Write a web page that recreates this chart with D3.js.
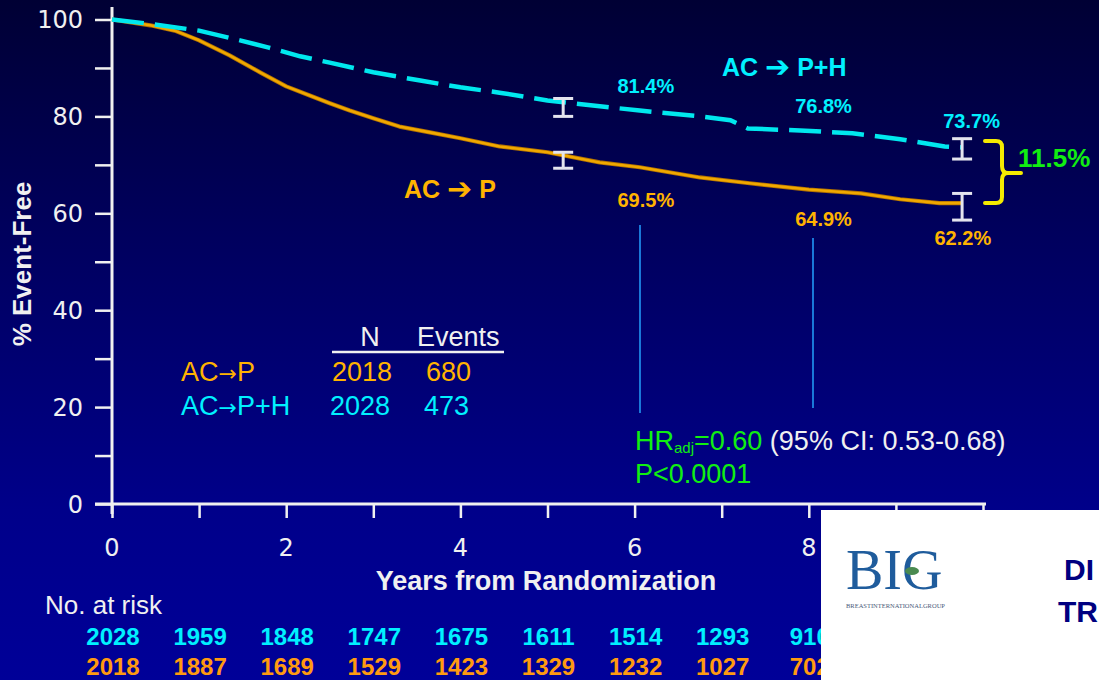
<!DOCTYPE html>
<html>
<head>
<meta charset="utf-8">
<script src="https://cdn.jsdelivr.net/npm/d3@7"></script>
<style>
  html, body { margin: 0; padding: 0; background: #000060; }
  svg { display: block; }
  text { font-family: "Liberation Sans", Arial, sans-serif; }
</style>
</head>
<body>
<svg id="chart" width="1099" height="680"></svg>
<script>
// ---------------- DATA ----------------
const phT = [0, 0.44, 1.0, 1.47, 1.8, 2.16, 2.5, 3.0, 3.54, 4.0, 4.45, 5.0, 5.6, 6.06, 6.75, 7.1, 7.3, 7.9, 8.5, 9.05, 9.56, 9.76];
const phV = [100, 99.1, 97.7, 95.7, 94.2, 92.4, 91.1, 89.1, 87.4, 86.0, 84.9, 83.3, 82.1, 81.2, 80.0, 79.2, 77.5, 77.1, 76.5, 75.3, 73.8, 73.6];

const pT = [0, 0.44, 0.72, 1.0, 1.35, 1.7, 2.0, 2.27, 2.5, 2.73, 3.0, 3.3, 3.65, 4.0, 4.45, 5.0, 5.6, 6.06, 6.75, 7.32, 8.0, 8.6, 9.05, 9.5, 9.76];
const pV = [100, 98.8, 97.7, 95.7, 92.6, 89.1, 86.2, 84.3, 82.7, 81.2, 79.6, 77.9, 76.7, 75.5, 73.8, 72.6, 70.5, 69.5, 67.4, 66.2, 64.9, 64.1, 62.9, 62.1, 62.1];

const ciT = [5.18, 9.76];
const phCiLo = [80.0, 71.2];
const phCiHi = [83.7, 75.4];
const pCiLo = [69.3, 58.6];
const pCiHi = [72.6, 64.1];

const phLabelT = [6.06, 8.1, 9.8];
const phLabelText = ["81.4%", "76.8%", "73.7%"];
const pLabelT = [6.06, 8.1, 9.7];
const pLabelText = ["69.5%", "64.9%", "62.2%"];

const xTicks = [0, 1, 2, 3, 4, 5, 6, 7, 8, 9, 10];
const xTickLabels = [0, 2, 4, 6, 8];
const yTicks = [0, 10, 20, 30, 40, 50, 60, 70, 80, 90, 100];
const yTickLabels = [0, 20, 40, 60, 80, 100];

const riskYears = [0, 1, 2, 3, 4, 5, 6, 7, 8];
const riskPH = [2028, 1959, 1848, 1747, 1675, 1611, 1514, 1293, 910];
const riskP = [2018, 1887, 1689, 1529, 1423, 1329, 1232, 1027, 702];

const legendArmA = ["AC", "AC"];
const legendArmB = ["P", "P+H"];
const legendN = [2018, 2028];
const legendEvents = [680, 473];

// ---------------- STYLE ----------------
const CYAN = "#00e8ee";
const CYAN_T = "#00f0ff";
const ORANGE = "#f0a800";
const ORANGE_T = "#ffb300";
const ORANGE_R = "#ff9a10";
const GREEN = "#11ee11";
const WHITE = "#f0f0f0";

const svg = d3.select("#chart");
const W = 1099, H = 680;

const defs = svg.append("defs");
const grad = defs.append("linearGradient").attr("id", "bg").attr("x1", 0).attr("y1", 0).attr("x2", 0).attr("y2", 1);
grad.append("stop").attr("offset", "0%").attr("stop-color", "#000034");
grad.append("stop").attr("offset", "35%").attr("stop-color", "#00005e");
grad.append("stop").attr("offset", "75%").attr("stop-color", "#00008a");
grad.append("stop").attr("offset", "100%").attr("stop-color", "#000098");
svg.append("rect").attr("width", W).attr("height", H).attr("fill", "url(#bg)");

const x = d3.scaleLinear().domain([0, 10]).range([112, 983]);
const y = d3.scaleLinear().domain([0, 100]).range([504, 19.5]);

// ---------------- AXES ----------------
const gY = svg.append("g").attr("transform", "translate(112,0)")
  .call(d3.axisLeft(y).tickValues(yTicks).tickSize(17).tickFormat(""));
gY.select(".domain").remove();
gY.selectAll(".tick line").attr("stroke", WHITE).attr("stroke-width", 2.5);
svg.append("line").attr("x1", 112).attr("x2", 112).attr("y1", 7).attr("y2", 514)
  .attr("stroke", WHITE).attr("stroke-width", 3);

const gX = svg.append("g").attr("transform", "translate(0,504)")
  .call(d3.axisBottom(x).tickValues(xTicks).tickSize(14).tickFormat(""));
gX.select(".domain").remove();
gX.selectAll(".tick line").attr("stroke", WHITE).attr("stroke-width", 2.5);
svg.append("line").attr("x1", 95).attr("x2", 986).attr("y1", 504).attr("y2", 504)
  .attr("stroke", WHITE).attr("stroke-width", 3);

svg.append("g").selectAll("text").data(yTickLabels).join("text")
  .attr("x", 83).attr("y", d => y(d) + 8.5)
  .attr("text-anchor", "end")
  .style("font-family", "'DejaVu Sans', Verdana, sans-serif")
  .style("font-size", "24px").attr("fill", WHITE)
  .text(d => d);

svg.append("g").selectAll("text").data(xTickLabels).join("text")
  .attr("x", d => x(d)).attr("y", 556)
  .attr("text-anchor", "middle")
  .style("font-family", "'DejaVu Sans', Verdana, sans-serif")
  .style("font-size", "24px").attr("fill", WHITE)
  .text(d => d);

svg.append("text").attr("transform", "translate(31,264) rotate(-90)")
  .attr("text-anchor", "middle").attr("fill", WHITE)
  .style("font-size", "26px").style("font-weight", "bold")
  .text("% Event-Free");

svg.append("text").attr("x", 546).attr("y", 590)
  .attr("text-anchor", "middle").attr("fill", WHITE)
  .style("font-size", "27px").style("font-weight", "bold")
  .text("Years from Randomization");

// ---------------- REFERENCE LINES ----------------
svg.append("line").attr("x1", 640).attr("x2", 640).attr("y1", 225).attr("y2", 413)
  .attr("stroke", "#1a78d8").attr("stroke-width", 2);
svg.append("line").attr("x1", 813).attr("x2", 813).attr("y1", 238).attr("y2", 408)
  .attr("stroke", "#1a78d8").attr("stroke-width", 2);

// ---------------- CURVES ----------------
const line = d3.line().x(d => x(d[0])).y(d => y(d[1])).curve(d3.curveLinear);
const pData = pT.map((t, i) => [t, pV[i]]);
const phData = phT.map((t, i) => [t, phV[i]]);

svg.append("path").datum(pData).attr("d", line)
  .attr("fill", "none").attr("stroke", "#b07000").attr("stroke-width", 4.2).attr("stroke-linejoin", "round");
svg.append("path").datum(pData).attr("d", line)
  .attr("fill", "none").attr("stroke", ORANGE).attr("stroke-width", 2.6).attr("stroke-linejoin", "round");

svg.append("path").datum(phData).attr("d", line)
  .attr("fill", "none").attr("stroke", CYAN).attr("stroke-width", 4.5)
  .attr("stroke-dasharray", "32,11");

// ---------------- ERROR BARS ----------------
function errBar(t, lo, hi) {
  const g = svg.append("g").attr("stroke", "#e4e4ee").attr("stroke-width", 3);
  const cx = x(t);
  g.append("line").attr("x1", cx).attr("x2", cx).attr("y1", y(hi)).attr("y2", y(lo));
  g.append("line").attr("x1", cx - 10).attr("x2", cx + 10).attr("y1", y(hi)).attr("y2", y(hi));
  g.append("line").attr("x1", cx - 10).attr("x2", cx + 10).attr("y1", y(lo)).attr("y2", y(lo));
}
ciT.forEach((t, i) => { errBar(t, phCiLo[i], phCiHi[i]); errBar(t, pCiLo[i], pCiHi[i]); });

// ---------------- ANNOTATIONS ----------------
svg.append("g").selectAll("text").data(phLabelText).join("text")
  .attr("x", (d, i) => x(phLabelT[i]) + 6).attr("y", (d, i) => [93, 113, 128][i])
  .attr("text-anchor", "middle").attr("fill", CYAN_T)
  .style("font-size", "20px").style("font-weight", "bold")
  .text(d => d);
svg.append("g").selectAll("text").data(pLabelText).join("text")
  .attr("x", (d, i) => x(pLabelT[i]) + 6).attr("y", (d, i) => [207, 226, 245][i])
  .attr("text-anchor", "middle").attr("fill", ORANGE_T)
  .style("font-size", "20px").style("font-weight", "bold")
  .text(d => d);

const t1 = svg.append("text").attr("x", 722).attr("y", 76).attr("fill", CYAN_T)
  .style("font-size", "25px").style("font-weight", "bold");
t1.append("tspan").text("AC ");
t1.append("tspan").style("font-family", "'DejaVu Sans', sans-serif").style("font-size", "30px").attr("dy", 1).text("\u2794");
t1.append("tspan").attr("dy", -1).text(" P+H");
const t2 = svg.append("text").attr("x", 404).attr("y", 198).attr("fill", ORANGE_T)
  .style("font-size", "25px").style("font-weight", "bold");
t2.append("tspan").text("AC ");
t2.append("tspan").style("font-family", "'DejaVu Sans', sans-serif").style("font-size", "30px").attr("dy", 1).text("\u2794");
t2.append("tspan").attr("dy", -1).text(" P");

// brace
svg.append("path")
  .attr("d", "M985,141 L996,141 Q1002,141 1002,147 L1002,166 Q1002,173 1008,173 L1021,173 M1008,173 Q1002,173 1002,180 L1002,197 Q1002,203 996,203 L985,203")
  .attr("fill", "none").attr("stroke", "#f4ea00").attr("stroke-width", 4).attr("stroke-linecap", "round");
svg.append("text").attr("x", 1018).attr("y", 167).attr("fill", GREEN)
  .style("font-size", "26px").style("font-weight", "bold")
  .text("11.5%");

// legend table
svg.append("text").attr("x", 370).attr("y", 346).attr("text-anchor", "middle").attr("fill", WHITE)
  .style("font-size", "27px").text("N");
svg.append("text").attr("x", 417).attr("y", 346).attr("fill", WHITE)
  .style("font-size", "27px").text("Events");
svg.append("line").attr("x1", 332).attr("x2", 504).attr("y1", 352).attr("y2", 352)
  .attr("stroke", WHITE).attr("stroke-width", 2.5);
const legY = [381, 415];
const legCol = [ORANGE_T, CYAN_T];
legendArmA.forEach((a, i) => {
  const tx = svg.append("text").attr("x", 181).attr("y", legY[i]).attr("fill", legCol[i]).style("font-size", "27px");
  tx.append("tspan").text(a);
  tx.append("tspan").style("font-family", "'DejaVu Sans', sans-serif").style("font-size", "22px").text("\u2192");
  tx.append("tspan").text(legendArmB[i]);
  svg.append("text").attr("x", [332, 330][i]).attr("y", legY[i]).attr("fill", legCol[i]).style("font-size", "27px").text(legendN[i]);
  svg.append("text").attr("x", [426, 424][i]).attr("y", legY[i]).attr("fill", legCol[i]).style("font-size", "27px").text(legendEvents[i]);
});

// HR text
const hr = svg.append("text").attr("x", 635).attr("y", 450).style("font-size", "27px");
hr.append("tspan").attr("fill", GREEN).text("HR");
hr.append("tspan").attr("fill", GREEN).attr("dy", 3).style("font-size", "15px").text("adj");
hr.append("tspan").attr("fill", GREEN).attr("dy", -3).text("=0.60");
hr.append("tspan").attr("fill", WHITE).text(" (95% CI: 0.53-0.68)");
svg.append("text").attr("x", 635).attr("y", 483).attr("fill", GREEN).style("font-size", "27px").text("P<0.0001");

// ---------------- RISK TABLE ----------------
svg.append("text").attr("x", 45).attr("y", 614).attr("fill", WHITE).style("font-size", "26px").text("No. at risk");
svg.append("g").selectAll("text").data(riskPH).join("text")
  .attr("x", (d, i) => x(riskYears[i]) + 1).attr("y", 645)
  .attr("text-anchor", "middle").attr("fill", CYAN_T)
  .style("font-size", "24px").style("font-weight", "bold")
  .text(d => d);
svg.append("g").selectAll("text").data(riskP).join("text")
  .attr("x", (d, i) => x(riskYears[i]) + 1).attr("y", 675)
  .attr("text-anchor", "middle").attr("fill", ORANGE_R)
  .style("font-size", "24px").style("font-weight", "bold")
  .text(d => d);

// ---------------- LOGO BOX ----------------
svg.append("rect").attr("x", 821).attr("y", 510).attr("width", W - 821).attr("height", H - 510).attr("fill", "#ffffff");
svg.append("text").attr("x", 846).attr("y", 589).attr("fill", "#1f5c9c")
  .style("font-family", "'Liberation Serif', 'Times New Roman', serif").style("font-size", "56px")
  .text("BIG");
svg.append("ellipse").attr("cx", 912).attr("cy", 571).attr("rx", 7).attr("ry", 4).attr("fill", "#4a8a50");
svg.append("text").attr("x", 846).attr("y", 608).attr("fill", "#4a5a7a")
  .style("font-family", "'Liberation Serif', serif").style("font-size", "6.5px")
  .text("BREASTINTERNATIONALGROUP");
svg.append("text").attr("x", 1064).attr("y", 580).attr("fill", "#000080")
  .style("font-size", "30px").style("font-weight", "bold").text("DI");
svg.append("text").attr("x", 1058).attr("y", 622).attr("fill", "#000080")
  .style("font-size", "30px").style("font-weight", "bold").text("TR");
</script>
</body>
</html>
